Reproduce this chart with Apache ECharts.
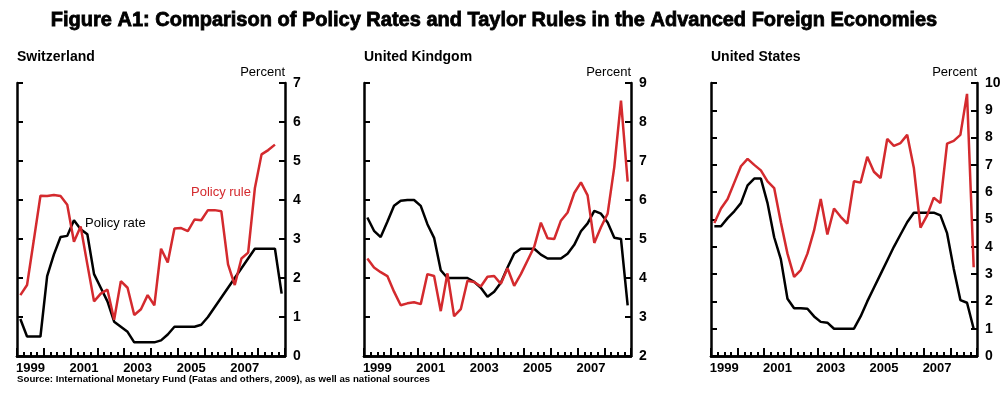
<!DOCTYPE html>
<html>
<head>
<meta charset="utf-8">
<script src="https://cdn.jsdelivr.net/npm/echarts@6/dist/echarts.min.js"></script>
<style>
  html, body { margin: 0; padding: 0; background: #fff; }
  #chart { width: 1008px; height: 399px; }
</style>
</head>
<body>
<div id="chart"></div>
<script>
  // categories
  var years = ['1999', '2000', '2001', '2002', '2003', '2004', '2005', '2006', '2007', '2008'];
  var quarters = [];
  years.forEach(function (y) {
    ['Q1', 'Q2', 'Q3', 'Q4'].forEach(function (q) { quarters.push(y + q); });
  });

  // Switzerland
  var chRate = [0.95, 0.5, 0.5, 0.5, 2.05, 2.6, 3.05, 3.08, 3.48, 3.25, 3.12, 2.1, 1.75, 1.4, 0.88, 0.75,
    0.62, 0.35, 0.35, 0.35, 0.35, 0.4, 0.55, 0.75, 0.75, 0.75, 0.75, 0.8, 1.0, 1.25, 1.5, 1.75,
    2.0, 2.25, 2.5, 2.75, 2.75, 2.75, 2.75, 1.6];
  var chRule = [1.56, 1.82, 2.96, 4.11, 4.1, 4.13, 4.1, 3.88, 2.93, 3.32, 2.35, 1.4, 1.6, 1.7, 0.93, 1.92,
    1.75, 1.05, 1.2, 1.56, 1.3, 2.75, 2.4, 3.27, 3.28, 3.2, 3.5, 3.48, 3.74, 3.74, 3.71, 2.35,
    1.82, 2.5, 2.65, 4.3, 5.17, 5.28, 5.42];

  // United Kingdom
  var ukRate = [5.55, 5.21, 5.05, 5.44, 5.85, 5.98, 6.0, 6.0, 5.85, 5.38, 5.03, 4.2, 4.0, 4.0, 4.0, 4.0,
    3.9, 3.75, 3.52, 3.65, 3.88, 4.27, 4.63, 4.75, 4.75, 4.75, 4.6, 4.5, 4.5, 4.5, 4.62, 4.85,
    5.2, 5.4, 5.72, 5.65, 5.42, 5.03, 5.0, 3.3];
  var ukRule = [4.5, 4.27, 4.15, 4.05, 3.65, 3.3, 3.35, 3.38, 3.33, 4.1, 4.05, 3.15, 4.12, 3.02, 3.2, 3.93,
    3.9, 3.78, 4.03, 4.05, 3.85, 4.25, 3.8, 4.1, 4.45, 4.8, 5.42, 5.02, 5.0, 5.47, 5.68, 6.18,
    6.45, 6.12, 4.9, 5.3, 5.65, 6.85, 8.55, 6.47];

  // United States
  var usRate = [4.75, 4.75, 5.05, 5.3, 5.6, 6.25, 6.5, 6.5, 5.6, 4.35, 3.55, 2.1, 1.75, 1.75, 1.73, 1.45,
    1.25, 1.22, 1.0, 1.0, 1.0, 1.0, 1.45, 2.0, 2.5, 3.0, 3.5, 4.0, 4.45, 4.9, 5.25, 5.25,
    5.25, 5.25, 5.15, 4.5, 3.2, 2.05, 1.95, 1.0];
  var usRule = [4.87, 5.4, 5.75, 6.35, 6.95, 7.22, 7.0, 6.8, 6.4, 6.15, 4.9, 3.75, 2.9, 3.15, 3.75, 4.6,
    5.75, 4.45, 5.4, 5.1, 4.85, 6.4, 6.35, 7.3, 6.75, 6.52, 7.95, 7.7, 7.8, 8.1, 6.9, 4.7,
    5.15, 5.8, 5.6, 7.78, 7.88, 8.1, 9.6, 3.25];

  var panels = [
    { name: 'Switzerland', min: 0, max: 7, rate: chRate, rule: chRule, left: 17, width: 268 },
    { name: 'United Kindgom', min: 2, max: 9, rate: ukRate, rule: ukRule, left: 364, width: 267 },
    { name: 'United States', min: 0, max: 10, rate: usRate, rule: usRule, left: 711, width: 266 }
  ];

  var RED = '#d42a2e';
  var FONT = '"Liberation Sans", Arial, sans-serif';
  var axisLine = { show: true, onZero: false, lineStyle: { color: '#000', width: 2.5 } };

  var grid = [], xAxis = [], yAxis = [], series = [], graphic = [];

  panels.forEach(function (p, k) {
    grid.push({ left: p.left, top: 83, width: p.width, height: 273 });
    // quarter ticks
    xAxis.push({
      type: 'category', gridIndex: k, position: 'bottom', offset: 0, data: quarters, boundaryGap: true,
      axisLine: axisLine,
      axisTick: { show: true, inside: true, length: 4, interval: 0, lineStyle: { width: 2, color: '#000' } },
      axisLabel: { show: false }, splitLine: { show: false }
    });
    // year ticks and labels
    xAxis.push({
      type: 'category', gridIndex: k, position: 'bottom', offset: 0, data: years, boundaryGap: true,
      axisLine: axisLine,
      axisTick: { show: true, inside: true, length: 8, interval: 0, lineStyle: { width: 2, color: '#000' } },
      axisLabel: {
        interval: 0, margin: 6, color: '#000', fontFamily: FONT, fontWeight: 'bold', fontSize: 13,
        formatter: function (v, i) { return i % 2 === 0 ? v : ''; }
      },
      splitLine: { show: false }
    });
    yAxis.push({
      type: 'value', gridIndex: k, position: 'right', offset: 0, min: p.min, max: p.max, interval: 1,
      axisLine: axisLine,
      axisTick: { show: true, inside: true, length: 6, lineStyle: { width: 2, color: '#000' } },
      axisLabel: { margin: 8, color: '#000', fontFamily: FONT, fontWeight: 'bold', fontSize: 14 },
      splitLine: { show: false }
    });
    yAxis.push({
      type: 'value', gridIndex: k, position: 'left', offset: 0, min: p.min, max: p.max, interval: 1,
      axisLine: axisLine,
      axisTick: { show: true, inside: true, length: 6, lineStyle: { width: 2, color: '#000' } },
      axisLabel: { show: false }, splitLine: { show: false }
    });
    series.push({
      name: 'Policy rate', type: 'line', xAxisIndex: 2 * k, yAxisIndex: 2 * k, data: p.rate,
      symbol: 'none', lineStyle: { color: '#000', width: 2.5 }, itemStyle: { color: '#000' }
    });
    series.push({
      name: 'Policy rule', type: 'line', xAxisIndex: 2 * k, yAxisIndex: 2 * k, data: p.rule,
      symbol: 'none', lineStyle: { color: RED, width: 2.5 }, itemStyle: { color: RED }
    });
    graphic.push({
      type: 'text', x: p.left, y: 57,
      style: { text: p.name, font: 'bold 14px ' + FONT, fill: '#000', textVerticalAlign: 'middle' }
    });
    graphic.push({
      type: 'text', x: p.left + p.width, y: 72,
      style: { text: 'Percent', font: '13px ' + FONT, fill: '#000', textAlign: 'right', textVerticalAlign: 'middle' }
    });
  });

  // heavy title (stroke thickens the bold face)
  graphic.push({
    type: 'text', x: 494, y: 20,
    style: {
      text: 'Figure A1: Comparison of Policy Rates and Taylor Rules in the Advanced Foreign Economies',
      font: 'bold 20px ' + FONT, fill: '#000', stroke: '#000', lineWidth: 0.8,
      textAlign: 'center', textVerticalAlign: 'middle'
    }
  });
  graphic.push({
    type: 'text', x: 17, y: 379,
    style: {
      text: 'Source: International Monetary Fund (Fatas and others, 2009), as well as national sources',
      font: 'bold 9.7px ' + FONT, fill: '#000', textVerticalAlign: 'middle'
    }
  });
  // line labels
  graphic.push({
    type: 'text', x: 85, y: 223,
    style: { text: 'Policy rate', font: '13px ' + FONT, fill: '#000', textVerticalAlign: 'middle' }
  });
  graphic.push({
    type: 'text', x: 191, y: 192,
    style: { text: 'Policy rule', font: '13px ' + FONT, fill: RED, textVerticalAlign: 'middle' }
  });

  var myChart = echarts.init(document.getElementById('chart'));
  myChart.setOption({
    animation: false,
    grid: grid,
    xAxis: xAxis,
    yAxis: yAxis,
    series: series,
    graphic: graphic
  });
</script>
</body>
</html>
